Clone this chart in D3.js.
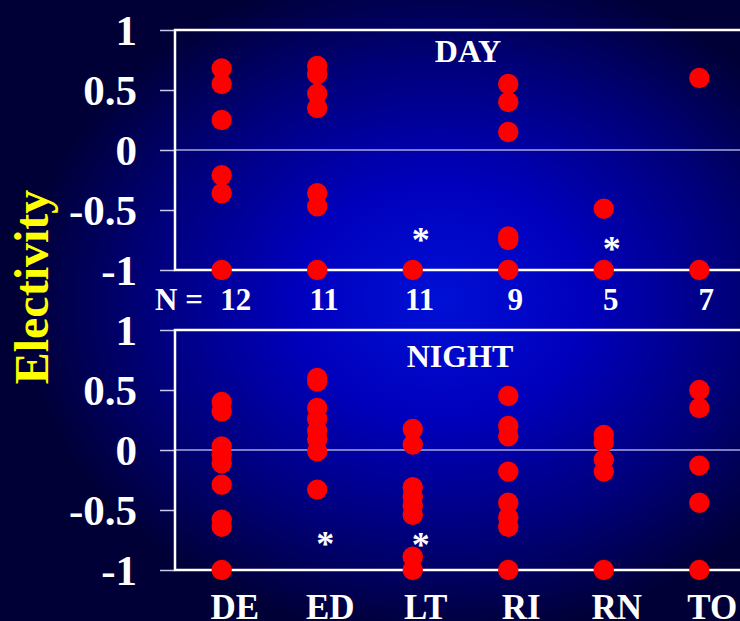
<!DOCTYPE html>
<html>
<head>
<meta charset="utf-8">
<script src="https://cdn.jsdelivr.net/npm/d3@7"></script>
<style>
  html, body { margin: 0; padding: 0; background: #000038; }
  svg { display: block; }
  text { font-family: "Liberation Serif", "Times New Roman", serif; font-weight: bold; }
</style>
</head>
<body>
<svg id="chart" width="740" height="621"></svg>
<script>
// ---- data ----
const categories = ["DE", "ED", "LT", "RI", "RN", "TO"];
const nCounts = [12, 11, 11, 9, 5, 7];
const yTicks = [1, 0.5, 0, -0.5, -1];
const yTickLabels = ["1", "0.5", "0", "-0.5", "-1"];

// electivity values per category (same order as categories)
const dayValues = [
  [0.68, 0.55, 0.25, -0.21, -0.36, -1],
  [0.70, 0.63, 0.47, 0.35, -0.36, -0.47, -1],
  [-1],
  [0.55, 0.40, 0.15, -0.72, -0.75, -1],
  [-0.49, -1],
  [0.60, -1]
];
const nightValues = [
  [0.40, 0.32, 0.03, -0.04, -0.11, -0.29, -0.58, -0.64, -1],
  [0.60, 0.57, 0.35, 0.26, 0.16, 0.09, -0.01, -0.33],
  [0.175, 0.045, -0.31, -0.39, -0.46, -0.54, -0.89, -1],
  [0.45, 0.20, 0.115, -0.18, -0.44, -0.56, -0.64, -1],
  [0.125, 0.065, -0.08, -0.18, -1],
  [0.50, 0.35, -0.13, -0.44, -1]
];
// significance markers (category, value position)
const dayStars = [["LT", -0.71], ["RN", -0.78]];
const nightStars = [["ED", -0.74], ["LT", -0.75]];

// ---- drawing ----
const svg = d3.select("#chart");
const W = 740, H = 621;

const defs = svg.append("defs");
const grad = defs.append("radialGradient")
  .attr("id", "bg")
  .attr("gradientUnits", "userSpaceOnUse")
  .attr("cx", 0).attr("cy", 0).attr("r", 1)
  .attr("gradientTransform", "translate(440,300) scale(420,340)");
[[0, "#0010d6"], [0.35, "#0000bc"], [0.7, "#00007a"], [1, "#000036"]]
  .forEach(([o, c]) => grad.append("stop").attr("offset", o).attr("stop-color", c));

svg.append("rect").attr("width", W).attr("height", H).attr("fill", "url(#bg)");

const x = d3.scalePoint().domain(categories).range([221.7, 699.3]);
const frameLeft = 175;

function panel(values, stars, yTop, yBottom, title, titleX, titleY) {
  const y = d3.scaleLinear().domain([-1, 1]).range([yBottom, yTop]);
  const g = svg.append("g");

  // left axis with ticks
  const axis = d3.axisLeft(y).tickValues(yTicks).tickSize(15).tickFormat("");
  const ag = g.append("g").attr("transform", `translate(${frameLeft},0)`).call(axis);
  ag.select(".domain").remove();
  ag.selectAll(".tick line").attr("stroke", "#c8c8f0").attr("stroke-width", 1.5);

  // tick labels
  g.selectAll(".ylab").data(yTicks).join("text")
    .attr("x", 137)
    .attr("y", d => y(d))
    .attr("dy", "0.35em")
    .attr("text-anchor", "end")
    .attr("fill", "#ffffff")
    .attr("font-size", 43)
    .text((d, i) => yTickLabels[i]);

  // zero gridline
  g.append("line")
    .attr("x1", frameLeft).attr("x2", W)
    .attr("y1", y(0)).attr("y2", y(0))
    .attr("stroke", "#a8a8e0").attr("stroke-width", 1.5);

  // frame
  g.append("path")
    .attr("d", `M${W + 5},${y(1)}H${frameLeft}V${y(-1)}H${W + 5}`)
    .attr("fill", "none").attr("stroke", "#ffffff").attr("stroke-width", 2.5);

  // title
  g.append("text")
    .attr("x", titleX).attr("y", titleY)
    .attr("text-anchor", "middle")
    .attr("fill", "#ffffff").attr("font-size", 32)
    .text(title);

  // stars
  g.selectAll(".star").data(stars).join("text")
    .attr("x", d => x(d[0]) + 8)
    .attr("y", d => y(d[1]) + 17)
    .attr("text-anchor", "middle")
    .attr("fill", "#ffffff").attr("font-size", 36)
    .text("*");

  // points
  const pts = [];
  values.forEach((arr, i) => arr.forEach(v => pts.push({ cat: categories[i], v })));
  g.selectAll(".pt").data(pts).join("circle")
    .attr("cx", d => x(d.cat))
    .attr("cy", d => y(d.v))
    .attr("r", 10.2)
    .attr("fill", "#ff0000");
  return y;
}

panel(dayValues, dayStars, 30, 270, "DAY", 468, 62);
panel(nightValues, nightStars, 330, 570, "NIGHT", 460, 367);

// N row
svg.append("text")
  .attr("x", 155).attr("y", 310)
  .attr("fill", "#ffffff").attr("font-size", 31)
  .text("N =");
svg.selectAll(".nlab").data(nCounts).join("text")
  .attr("x", (d, i) => x(categories[i]) + (i === 0 ? 14 : 7))
  .attr("y", 310)
  .attr("text-anchor", "middle")
  .attr("fill", "#ffffff").attr("font-size", 31)
  .text(d => d);

// category labels
svg.selectAll(".clab").data(categories).join("text")
  .attr("x", d => x(d) + 13)
  .attr("y", 619)
  .attr("text-anchor", "middle")
  .attr("fill", "#ffffff").attr("font-size", 35)
  .text(d => d);

// y axis title
svg.append("text")
  .attr("transform", "translate(48,287) rotate(-90)")
  .attr("text-anchor", "middle")
  .attr("fill", "#ffff00").attr("font-size", 48)
  .text("Electivity");
</script>
</body>
</html>
